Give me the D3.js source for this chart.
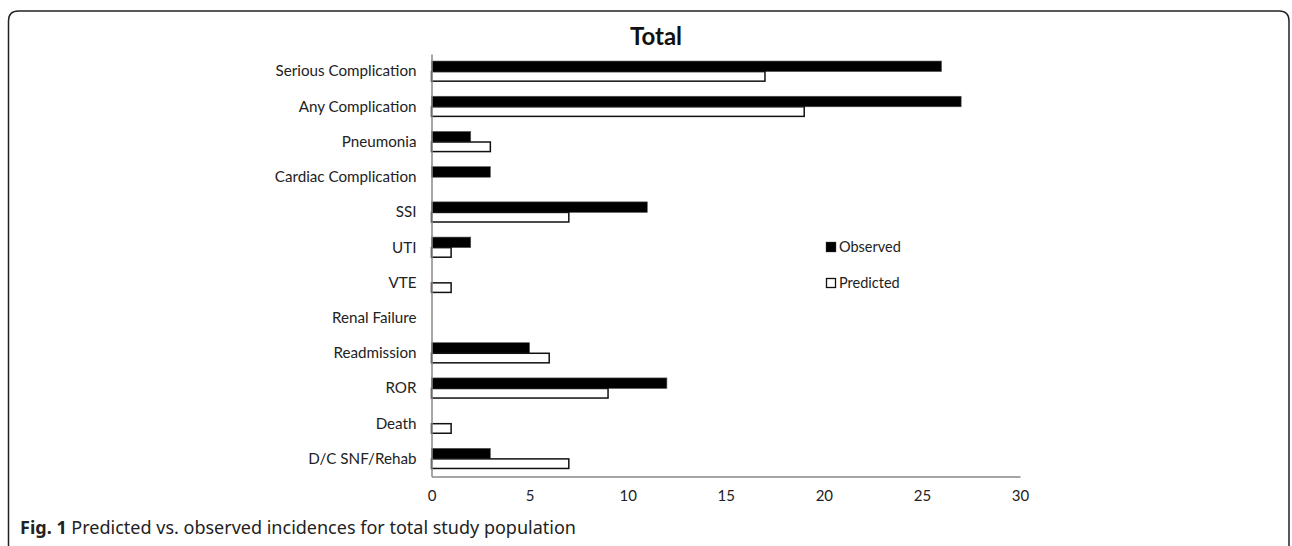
<!DOCTYPE html>
<html><head><meta charset="utf-8">
<script src="https://cdn.jsdelivr.net/npm/d3@7"></script>
<style>
html,body{margin:0;padding:0;background:#fff;}
svg{display:block;}
</style></head>
<body>
<svg id="chart" width="1292" height="546"></svg>
<script>
const categories = ["Serious Complication","Any Complication","Pneumonia","Cardiac Complication","SSI","UTI","VTE","Renal Failure","Readmission","ROR","Death","D/C SNF/Rehab"];
const observed  = [26, 27, 2, 3, 11, 2, 0, 0, 5, 12, 0, 3];
const predicted = [17, 19, 3, 0, 7, 1, 1, 0, 6, 9, 1, 7];
const xTicks = [0, 5, 10, 15, 20, 25, 30];
const seriesNames = ["Observed", "Predicted"];
const title = "Total";
const captionBold = "Fig. 1";
const captionText = " Predicted vs. observed incidences for total study population";

const svg = d3.select("#chart");
const labelFont = "Lato, 'Liberation Sans', sans-serif";

// frame
svg.append("path")
  .attr("d", "M8.5,560 L8.5,21 Q8.5,11 18.5,11 L1279,11 Q1289,11 1289,21 L1289,560")
  .attr("fill", "none").attr("stroke", "#222").attr("stroke-width", 1.5);

const x = d3.scaleLinear().domain([0, 30]).range([431.5, 1020]);
const y = d3.scaleBand().domain(categories).range([54, 476.5]).paddingInner(0.4).paddingOuter(0.2);
const sub = d3.scaleBand().domain(seriesNames).range([0, y.bandwidth()]);

// title
svg.append("text").attr("x", 656).attr("y", 45).attr("text-anchor", "middle")
  .style("font-family", labelFont).style("font-weight", "bold").style("font-size", "24px").attr("fill", "#111").text(title);

// bars
const g = svg.append("g");
const rows = categories.map((c, i) => ({c, o: observed[i], p: predicted[i]}));
g.selectAll("rect.obs").data(rows).join("rect").attr("class", "obs")
  .attr("x", x(0)).attr("y", d => y(d.c) + sub("Observed"))
  .attr("width", d => x(d.o) - x(0)).attr("height", sub.bandwidth())
  .attr("fill", "#000").attr("stroke", d => d.o > 0 ? "#555" : "none").attr("stroke-width", 0.6);
g.selectAll("rect.pred").data(rows).join("rect").attr("class", "pred")
  .attr("x", x(0)).attr("y", d => y(d.c) + sub("Predicted"))
  .attr("width", d => x(d.p) - x(0)).attr("height", sub.bandwidth() - 1)
  .attr("fill", "#fff").attr("stroke", d => d.p > 0 ? "#111" : "none").attr("stroke-width", 1.5);

// axes
const xAxis = svg.append("g").attr("transform", `translate(0,476.5)`)
  .call(d3.axisBottom(x).tickValues(xTicks).tickSize(0).tickPadding(14).tickFormat(d3.format("d")));
xAxis.select(".domain").attr("stroke", "#888").attr("stroke-width", 1.5);
xAxis.selectAll("text").style("font-family", labelFont).style("font-size", "15px").attr("fill", "#222");

const yAxis = svg.append("g").attr("transform", `translate(431.5,0)`)
  .call(d3.axisLeft(y).tickSize(0).tickPadding(15));
yAxis.select(".domain").attr("stroke", "#888").attr("stroke-width", 1.5);
yAxis.selectAll("text").style("font-family", labelFont).style("font-size", "15.2px").attr("fill", "#222");

// legend
const legend = svg.append("g").attr("transform", "translate(826,242)");
seriesNames.forEach((s, i) => {
  const lg = legend.append("g").attr("transform", `translate(0,${i * 36})`);
  lg.append("rect").attr("x", 0.5).attr("y", 0.5).attr("width", 9).attr("height", 9)
    .attr("fill", i === 0 ? "#000" : "#fff").attr("stroke", "#111").attr("stroke-width", 1.3);
  lg.append("text").attr("x", 13).attr("y", 5).attr("dy", "0.35em")
    .style("font-family", labelFont).style("font-size", "14.5px").attr("fill", "#222").text(s);
});

// caption
const cap = svg.append("text").attr("x", 20).attr("y", 534)
  .style("font-family", "'Noto Sans', 'Open Sans', sans-serif").style("font-size", "18px").attr("fill", "#222");
cap.append("tspan").style("font-weight", "bold").text(captionBold);
cap.append("tspan").text(captionText);
</script>
</body></html>
